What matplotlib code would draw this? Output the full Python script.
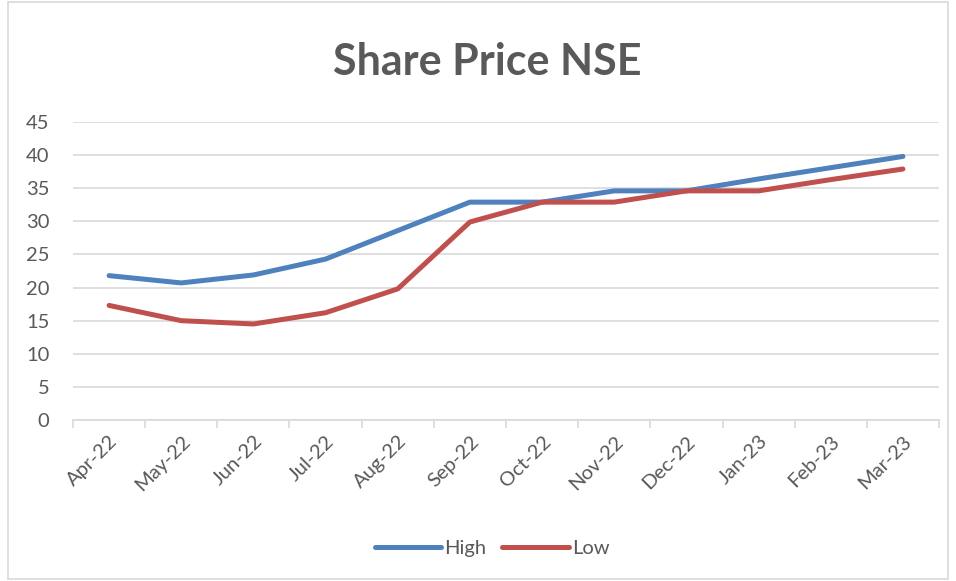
import matplotlib.pyplot as plt
from matplotlib.patches import Rectangle

# Data
months = ['Apr-22', 'May-22', 'Jun-22', 'Jul-22', 'Aug-22', 'Sep-22',
          'Oct-22', 'Nov-22', 'Dec-22', 'Jan-23', 'Feb-23', 'Mar-23']
high = [21.8, 20.7, 21.9, 24.3, 28.6, 32.9, 32.9, 34.6, 34.6, 36.4, 38.1, 39.8]
low = [17.3, 15.0, 14.5, 16.2, 19.8, 29.9, 32.9, 32.9, 34.6, 34.6, 36.3, 37.9]

plt.rcParams['font.family'] = ['Lato', 'DejaVu Sans']
grey = '#595959'

fig = plt.figure(figsize=(9.56, 5.81), dpi=100)
ax = fig.add_axes([73 / 956, 1 - 420 / 581, (939 - 73) / 956, (420 - 122) / 581])

x = list(range(len(months)))
ax.plot(x, high, color='#4F81BD', lw=3.6, solid_capstyle='round', label='High')
ax.plot(x, low, color='#C0504D', lw=3.6, solid_capstyle='round', label='Low')

ax.set_xlim(-0.5, len(months) - 0.5)
ax.set_ylim(0, 45)
ax.set_yticks(range(0, 50, 5))
ax.yaxis.grid(True, color='#D9D9D9', lw=1.2)
ax.set_axisbelow(True)

ax.set_xticks(x)
ax.set_xticklabels(months, rotation=45, ha='right', rotation_mode='anchor')
ax.set_xticks([i - 0.5 for i in range(len(months) + 1)], minor=True)
ax.tick_params(axis='x', which='major', length=0, pad=9, labelsize=14.5, labelcolor=grey)
ax.tick_params(axis='x', which='minor', length=6, width=1.2, color='#D9D9D9', direction='out')
ax.tick_params(axis='y', length=0, labelsize=14.5, labelcolor=grey, pad=17)

for s in ['top', 'right', 'left']:
    ax.spines[s].set_visible(False)
ax.spines['bottom'].set_color('#D9D9D9')
ax.spines['bottom'].set_linewidth(1.2)

fig.text(487 / 956, 1 - 62 / 581, 'Share Price NSE', ha='center', va='center',
         fontsize=31, fontweight='bold', color=grey)

fig.legend(loc='center', bbox_to_anchor=(492 / 956, 1 - 548 / 581), ncol=2,
           frameon=False, fontsize=14.5, handlelength=3.3, columnspacing=0.8,
           handletextpad=0.15, labelcolor=grey)

# chart border
fig.patches.append(Rectangle((8 / 956, 0.003), 1 - 16 / 956, 0.994, transform=fig.transFigure,
                             fill=False, edgecolor='#D9D9D9', lw=1.2))

fig.savefig('out.png', dpi=100)
